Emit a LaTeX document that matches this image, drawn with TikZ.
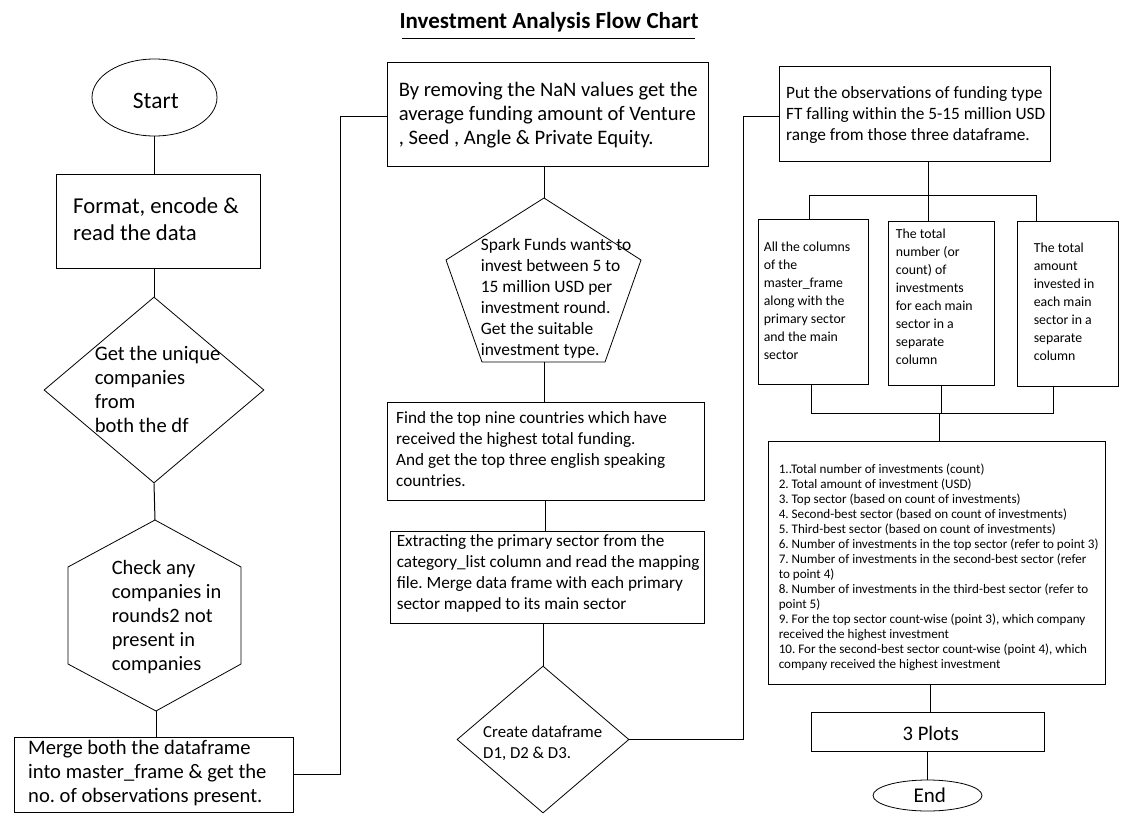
\documentclass[tikz,border=0pt]{standalone}
\usepackage{fontspec}
\setmainfont{Carlito}
\usetikzlibrary{shapes.geometric}
\newcommand\fsz[2]{\fontsize{#1}{#2}\selectfont}
\frenchspacing
\begin{document}
\begin{tikzpicture}[x=1pt,y=-1pt,
  line width=1pt,
  box/.style={draw, rectangle, inner sep=0pt},
  oval/.style={draw, ellipse, inner sep=0pt, line width=0.8pt},
  dia/.style={draw, diamond, inner sep=0pt, line width=0.8pt},
  txt/.style={anchor=base west, inner sep=0pt, align=left},
  ctxt/.style={anchor=base, inner sep=0pt},
  conn/.style={draw, line width=1pt}
]
\useasboundingbox[fill=white] (0,0) rectangle (1137,819);

% title
\node[anchor=base, inner sep=0pt, font=\fsz{23}{28}\bfseries] (title) at (549,28.3) {Investment Analysis Flow Chart};
\draw[line width=1pt] (402,38.3) -- (695,38.3);

% column 1
\node[oval, minimum width=125, minimum height=77] (start) at (154.5,97.5) {};
\node[ctxt, font=\fsz{23.5}{27}] (tstart) at (155.8,108.3) {Start};
\node[box, minimum width=204, minimum height=94] (fmt) at (158,221) {};
\node[txt, font=\fsz{22.7}{27.5}] (tfmt) at (72.7,240.8) {Format, encode \&\\read the data};
\node[dia, minimum width=220, minimum height=186] (uniq) at (154,390) {};
\node[txt, font=\fsz{20.6}{24}] (tuniq) at (94.3,432) {Get the unique\\companies\\from\\both the df};
\draw[line width=0.8pt] (155,520) coordinate (hexT) -- (241,567) -- (241,664) -- (156,711) coordinate (hexB) -- (68,664) -- (68,567) -- cycle;
\node[txt, font=\fsz{20.4}{24}] (thex) at (111.3,670) {Check any\\companies in\\rounds2 not\\present in\\companies};
\node[box, minimum width=279, minimum height=75] (merge) at (153.5,774.5) {};
\node[txt, font=\fsz{20.6}{24}] (tmerge) at (27.7,802) {Merge both the dataframe\\into master\_frame \& get the\\no. of observations present.};

% column 2
\node[box, minimum width=321, minimum height=104] (nan) at (547.5,114) {};
\node[txt, font=\fsz{20.6}{24}] (tnan) at (398.3,144.7) {By removing the NaN values get the\\average funding amount of Venture\\, Seed , Angle \& Private Equity.};
\draw[line width=0.8pt] (544,198) coordinate (penT) -- (641,260) -- (605,362) -- (544,362) coordinate (penB) -- (482,362) -- (446,260) -- cycle;
\node[txt, font=\fsz{17.4}{21}] (tpen) at (480.3,355) {Spark Funds wants to\\invest between 5 to\\15 million USD per\\investment round.\\Get the suitable\\investment type.};
\node[box, minimum width=317, minimum height=98] (find) at (545.5,451) {};
\node[txt, font=\fsz{17.2}{21}] (tfind) at (395.7,486.3) {Find the top nine countries which have\\received the highest total funding.\\And get the top three english speaking\\countries.};
\node[box, minimum width=314, minimum height=92] (extr) at (547,577) {};
\node[txt, font=\fsz{17.2}{21}] (textr) at (396.3,609.7) {Extracting the primary sector from the\\category\_list column and read the mapping\\file. Merge data frame with each primary\\sector mapped to its main sector};
\node[dia, minimum width=172, minimum height=147] (create) at (543,739.5) {};
\node[txt, font=\fsz{16.8}{20.6}] (tcreate) at (482.7,758.3) {Create dataframe\\D1, D2 \& D3.};

% column 3
\node[box, minimum width=271, minimum height=95] (put) at (914.5,113.5) {};
\node[txt, font=\fsz{17.3}{20.7}] (tput) at (785.7,140.1) {Put the observations of funding type\\FT falling within the 5-15 million USD\\range from those three dataframe.};
\node[box, minimum width=110, minimum height=165] (b1) at (813,301.5) {};
\node[txt, font=\fsz{13.8}{18}] (tb1) at (763.3,359.7) {All the columns\\of the\\master\_frame\\along with the\\primary sector\\and the main\\sector};
\node[box, minimum width=106, minimum height=164] (b2) at (941,303) {};
\node[txt, font=\fsz{13.8}{18}] (tb2) at (895.3,364.7) {The total\\number (or\\count) of\\investments\\for each main\\sector in a\\separate\\column};
\node[box, minimum width=101, minimum height=165] (b3) at (1067.5,303.5) {};
\node[txt, font=\fsz{13.8}{18}] (tb3) at (1033.3,360.7) {The total\\amount\\invested in\\each main\\sector in a\\separate\\column};
\node[box, minimum width=337, minimum height=243] (big) at (936.5,563) {};
\node[txt, font=\fsz{13.1}{15}] (tbig) at (778.3,668.3) {1..Total number of investments (count)\\2. Total amount of investment (USD)\\3. Top sector (based on count of investments)\\4. Second-best sector (based on count of investments)\\5. Third-best sector (based on count of investments)\\6. Number of investments in the top sector (refer to point 3)\\7. Number of investments in the second-best sector (refer\\to point 4)\\8. Number of investments in the third-best sector (refer to\\point 5)\\9. For the top sector count-wise (point 3), which company\\received the highest investment\\10. For the second-best sector count-wise (point 4), which\\company received the highest investment};
\node[box, minimum width=233, minimum height=39] (plots) at (927.5,731.5) {};
\node[ctxt, font=\fsz{20.6}{27}] (tplots) at (930.8,740) {3 Plots};
\node[oval, minimum width=109, minimum height=31] (end) at (927.5,795.5) {};
\node[ctxt, font=\fsz{21}{26}] (tend) at (929.7,802.3) {End};

% connectors
\draw[conn] (start.south) -- (start.south |- fmt.north);
\draw[conn] (uniq.north |- fmt.south) -- (uniq.north);
\draw[conn] (uniq.south) -- (hexT);
\draw[conn] (hexB) -- (hexB |- merge.north);
\draw[conn] (merge.east) -- ++(47,0) |- ([yshift=-2pt]nan.west);
\draw[conn] (penT |- nan.south) -- (penT);
\draw[conn] (penB) -- (penB |- find.north);
\draw[conn] ([xshift=-0.5pt]find.south) -- ([xshift=-2pt]extr.north);
\draw[conn] (create.north |- extr.south) -- (create.north);
\draw[conn] (create.east) -- ++(114,0) |- ([yshift=-2.5pt]put.west);
\coordinate (tb) at (928,195);
\draw[conn] (tb |- put.south) -- (tb);
\draw[conn] ([xshift=-4pt]b1.north) |- ([xshift=-31.5pt]b3.north |- tb) -- ([xshift=-31.5pt]b3.north);
\draw[conn] (tb) -- (tb |- b2.north);
\coordinate (bb) at (939,413);
\draw[conn] ([xshift=-2pt]b1.south) |- ([xshift=-14.5pt]b3.south |- bb) -- ([xshift=-14.5pt]b3.south);
\draw[conn] (bb -| b2.south) -- (b2.south);
\draw[conn] (bb) -- (bb |- big.north);
\draw[conn] ([xshift=-6.5pt]big.south) -- ([xshift=2.5pt]plots.north);
\draw[conn] (plots.south) -- (end.north);
\end{tikzpicture}
\end{document}
